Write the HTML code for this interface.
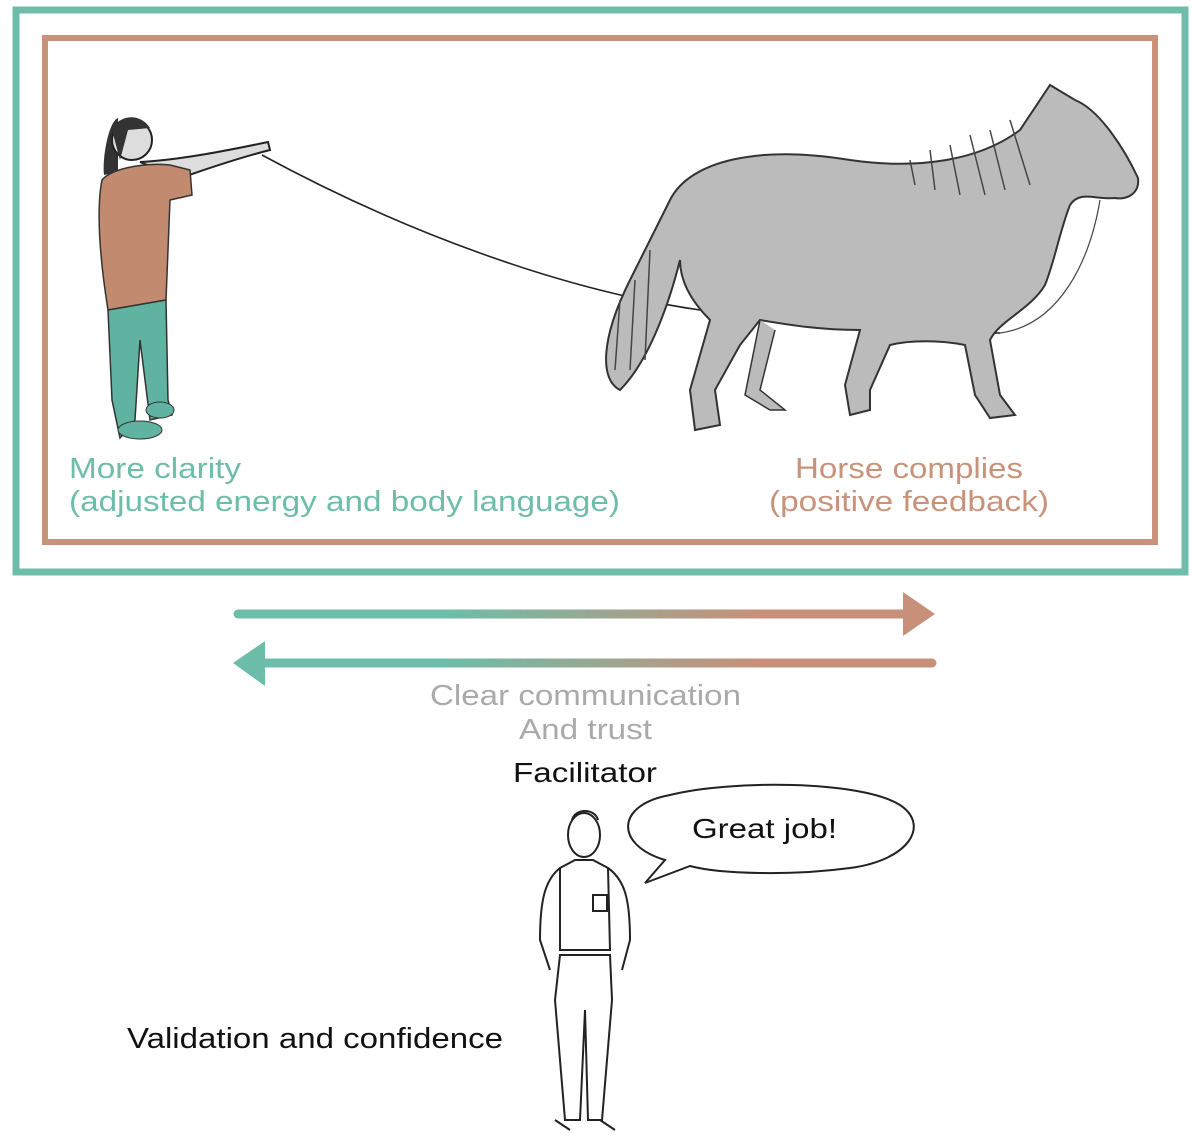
<!DOCTYPE html>
<html><head><meta charset="utf-8"><style>
html,body{margin:0;padding:0;background:#fff;}
svg{display:block;}
text{font-family:"Liberation Sans",sans-serif;}
</style></head><body>
<svg width="1200" height="1145" viewBox="0 0 1200 1145" xmlns="http://www.w3.org/2000/svg">
<defs>
<linearGradient id="g1" x1="234" y1="0" x2="935" y2="0" gradientUnits="userSpaceOnUse">
<stop offset="0.3" stop-color="#6cbda9"/><stop offset="0.75" stop-color="#c8907a"/></linearGradient>
</defs>
<rect x="16" y="10" width="1169" height="562" fill="none" stroke="#6dbdaa" stroke-width="7"/>
<rect x="45" y="38" width="1110" height="504" fill="none" stroke="#c8937a" stroke-width="6"/>

<!-- lead rope -->
<path d="M262 155 C 400 230, 560 290, 700 310 C 830 330, 920 335, 1000 333" fill="none" stroke="#222" stroke-width="1.6"/>
<path d="M1000 333 C 1060 325, 1090 260, 1100 200" fill="none" stroke="#444" stroke-width="1.2"/>

<!-- person -->
<path d="M118 118 C 108 122,102 160,104 175 L118 172 Z" fill="#333"/>
<circle cx="132" cy="140" r="20" fill="#ddd" stroke="#222" stroke-width="2"/>
<path d="M112 130 C 118 115,140 112,150 128 L 128 130 L120 160 Z" fill="#333"/>
<path d="M140 162 C 180 160,230 150,268 142 L270 150 C 230 160,190 175,180 178 Z" fill="#ddd" stroke="#222" stroke-width="2"/>
<path d="M102 180 C 110 170,140 162,170 165 L190 170 L192 195 L170 200 L166 300 L108 310 C 100 260,96 210,102 180 Z" fill="#c28a6f" stroke="#333" stroke-width="1.5"/>
<path d="M108 310 L166 300 L168 400 L172 415 L150 420 L140 340 L135 420 L120 438 L112 400 Z" fill="#5fb3a0" stroke="#333" stroke-width="1.5"/>
<ellipse cx="140" cy="430" rx="22" ry="9" fill="#5fb3a0" stroke="#333"/>
<ellipse cx="160" cy="410" rx="14" ry="8" fill="#5fb3a0" stroke="#333"/>

<!-- horse -->
<path d="M670 200 C 690 160,760 145,850 160 C 920 170,980 160,1020 130 L1050 85 L1075 100 C 1100 110,1125 150,1138 178 C 1140 195,1125 200,1115 198 C 1095 200,1080 190,1070 205 C 1060 230,1055 260,1045 285 C 1030 310,1000 320,990 340 L1000 395 L1015 415 L990 418 L975 395 L965 345 C 940 340,910 340,890 345 L870 390 L870 410 L850 415 L845 385 L860 330 C 820 330,790 325,760 320 L740 345 L715 390 L720 425 L695 430 L690 390 L710 320 C 690 300,680 280,680 260 C 670 300,650 360,620 390 C 600 380,600 340,630 280 C 650 240,660 220,670 200 Z" fill="#bbbbbb" stroke="#333" stroke-width="2"/>
<path d="M760 320 L745 395 L770 410 L785 410 L760 390 L775 330" fill="#bbbbbb" stroke="#333" stroke-width="1.5"/>
<g stroke="#444" stroke-width="1.5">
<line x1="910" y1="160" x2="915" y2="185"/><line x1="930" y1="150" x2="935" y2="190"/><line x1="950" y1="145" x2="960" y2="195"/>
<line x1="970" y1="135" x2="985" y2="195"/><line x1="990" y1="130" x2="1005" y2="190"/><line x1="1010" y1="120" x2="1030" y2="185"/>
<line x1="620" y1="300" x2="615" y2="370"/><line x1="635" y1="280" x2="630" y2="370"/><line x1="650" y1="250" x2="645" y2="360"/>
</g>

<text x="69" y="478" font-size="29" fill="#6dbdaa" textLength="172" lengthAdjust="spacingAndGlyphs">More clarity</text>
<text x="69" y="511" font-size="29" fill="#6dbdaa" textLength="551" lengthAdjust="spacingAndGlyphs">(adjusted energy and body language)</text>
<text x="795" y="478" font-size="29" fill="#c8937a" textLength="228" lengthAdjust="spacingAndGlyphs">Horse complies</text>
<text x="769" y="511" font-size="29" fill="#c8937a" textLength="280" lengthAdjust="spacingAndGlyphs">(positive feedback)</text>

<!-- arrows -->
<line x1="238" y1="614" x2="908" y2="614" stroke="url(#g1)" stroke-width="9" stroke-linecap="round"/>
<polygon points="903,592 935,614 903,636" fill="#c8907a"/>
<line x1="262" y1="663" x2="932" y2="663" stroke="url(#g1)" stroke-width="9" stroke-linecap="round"/>
<polygon points="265,641 233,663 265,686" fill="#6cbda9"/>

<text x="430" y="705" font-size="29" fill="#aaa" textLength="311" lengthAdjust="spacingAndGlyphs">Clear communication</text>
<text x="519" y="739" font-size="29" fill="#aaa" textLength="133" lengthAdjust="spacingAndGlyphs">And trust</text>
<text x="513" y="782" font-size="28" fill="#111" textLength="144" lengthAdjust="spacingAndGlyphs">Facilitator</text>

<!-- speech bubble -->
<path d="M665 860 C 615 845,615 805,670 795 C 730 780,860 780,900 805 C 930 825,910 860,850 868 C 790 876,720 874,690 866 L645 883 Z" fill="#fff" stroke="#222" stroke-width="2"/>
<text x="692" y="838" font-size="28" fill="#111" textLength="145" lengthAdjust="spacingAndGlyphs">Great job!</text>

<!-- facilitator -->
<g fill="none" stroke="#222" stroke-width="2">
<ellipse cx="584" cy="835" rx="16" ry="22"/>
<path d="M572 820 C 575 808,595 808,598 820"/>
<path d="M560 868 C 545 880,540 900,540 940 L550 970 M608 868 C 625 880,630 900,630 940 L622 970"/>
<path d="M560 868 L575 860 L593 860 L608 868 L610 950 L560 950 Z"/>
<path d="M560 955 L610 955 L612 1000 L602 1120 L588 1120 L585 1010 L580 1120 L565 1120 L555 1000 Z"/>
<rect x="593" y="895" width="14" height="16"/>
<path d="M555 1120 L570 1130 M600 1120 L615 1130"/>
</g>
<text x="127" y="1048" font-size="29" fill="#111" textLength="376" lengthAdjust="spacingAndGlyphs">Validation and confidence</text>
</svg>
</body></html>
